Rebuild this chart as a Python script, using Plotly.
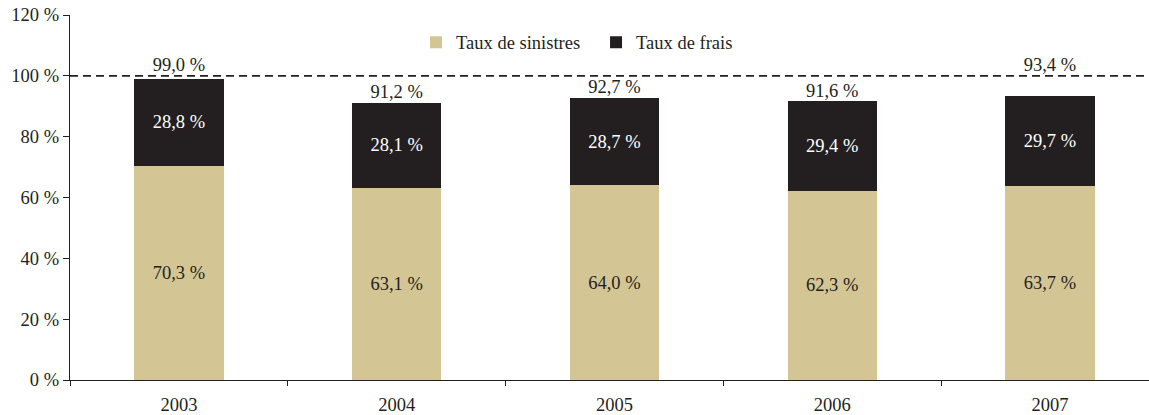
import plotly.graph_objects as go

# Loss ratio / expense ratio per year (%)
years = ["2003", "2004", "2005", "2006", "2007"]
taux_sinistres = [70.3, 63.1, 64.0, 62.3, 63.7]
taux_frais = [28.8, 28.1, 28.7, 29.4, 29.7]
ratio_combine = [99.0, 91.2, 92.7, 91.6, 93.4]
y_ticks = [0, 20, 40, 60, 80, 100, 120]
seuil = 100

BEIGE = "#D3C594"
DARK = "#231F20"
FONT = "Liberation Serif"
FS = 18.5


def pct(v):
    return f"{v:.1f}".replace(".", ",") + " %"


fig = go.Figure()
fig.add_trace(go.Bar(
    x=years, y=taux_sinistres, name="Taux de sinistres",
    marker=dict(color=BEIGE, line=dict(width=0)),
    text=[pct(v) for v in taux_sinistres], textposition="inside",
    insidetextanchor="middle", textangle=0,
    textfont=dict(color=DARK, size=FS, family=FONT),
    width=0.41, hoverinfo="skip",
))
fig.add_trace(go.Bar(
    x=years, y=taux_frais, name="Taux de frais",
    marker=dict(color=DARK, line=dict(width=0)),
    text=[pct(v) for v in taux_frais], textposition="inside",
    insidetextanchor="middle", textangle=0,
    textfont=dict(color="white", size=FS, family=FONT),
    width=0.41, hoverinfo="skip",
))

# Combined ratio labels; those close to the 100 % line sit above it
label_y = [seuil if tot > 93 else tot for tot in ratio_combine]
fig.add_trace(go.Scatter(
    x=years, y=label_y, mode="text",
    text=[pct(v) for v in ratio_combine], textposition="top center",
    textfont=dict(color=DARK, size=FS, family=FONT),
    showlegend=False, hoverinfo="skip", cliponaxis=False,
))

# 100 % reference line
fig.add_shape(
    type="line", xref="paper", x0=0, x1=1, yref="y", y0=seuil, y1=seuil,
    line=dict(color=DARK, width=1.6, dash="8px,5px"), layer="below",
)

fig.update_layout(
    width=1149, height=415,
    margin=dict(l=70, r=0, t=15, b=35),
    barmode="stack",
    plot_bgcolor="white", paper_bgcolor="white",
    font=dict(family=FONT, size=FS, color=DARK),
    showlegend=True,
    legend=dict(
        orientation="h", traceorder="normal", entrywidth=135,
        x=0.3207, xanchor="left", y=0.924, yanchor="middle",
        font=dict(size=FS, family=FONT, color=DARK),
        bgcolor="rgba(0,0,0,0)",
    ),
    xaxis=dict(
        type="category", range=[-0.5, 4.455],
        showline=True, linecolor=DARK, linewidth=1.3,
        ticks="outside", tickson="boundaries", ticklen=5, tickwidth=1.2,
        tickcolor=DARK, showgrid=False, ticklabelstandoff=8,
        tickfont=dict(size=FS, family=FONT, color=DARK),
    ),
    yaxis=dict(
        range=[0, 120], tickmode="array", tickvals=y_ticks,
        ticktext=[f"{v} %" for v in y_ticks],
        showline=True, linecolor=DARK, linewidth=1.3,
        ticks="outside", ticklen=6, tickwidth=1.2, tickcolor=DARK,
        showgrid=False, zeroline=False,
        tickfont=dict(size=FS, family=FONT, color=DARK),
    ),
)

fig.write_html("out.html")
